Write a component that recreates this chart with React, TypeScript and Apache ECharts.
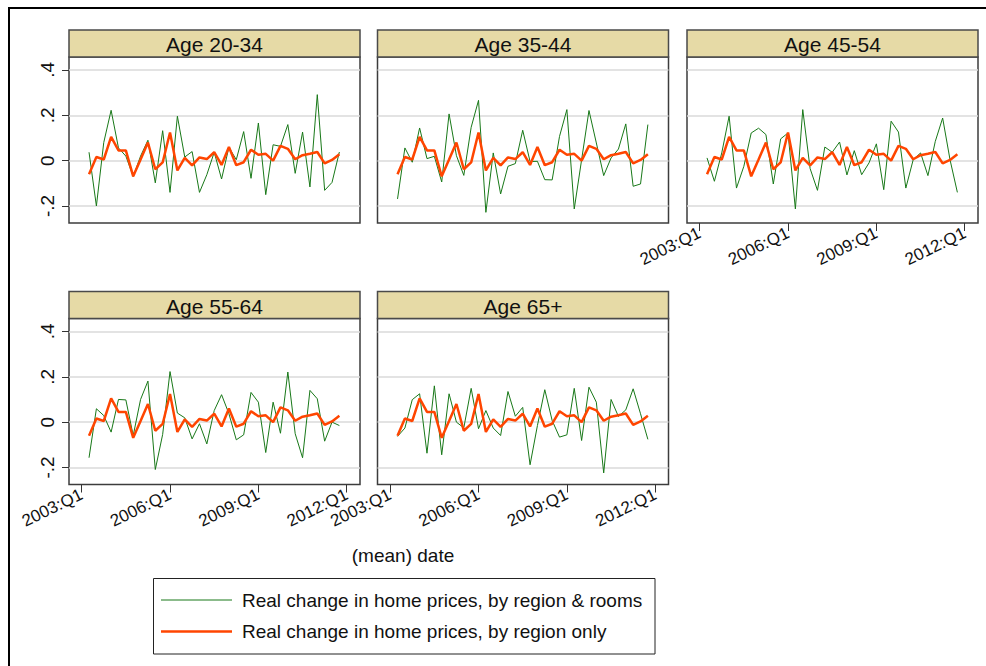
import React, { useEffect, useRef } from "react";
import * as echarts from "echarts";

// ---- Data ----
const quarterIndex = [1, 2, 3, 4, 5, 6, 7, 8, 9, 10, 11, 12, 13, 14, 15, 16, 17, 18, 19, 20, 21, 22, 23, 24, 25, 26, 27, 28, 29, 30, 31, 32, 33, 34, 35];
const xTickValues = [0, 12, 24, 36];
const xTickLabels = ["2003:Q1", "2006:Q1", "2009:Q1", "2012:Q1"];
const yTickValues = [-0.2, 0, 0.2, 0.4];
const yTickLabels = ["-.2", "0", ".2", ".4"];
const panelTitles = ["Age 20-34", "Age 35-44", "Age 45-54", "Age 55-64", "Age 65+"];
const seriesNames = [
  "Real change in home prices, by region & rooms",
  "Real change in home prices, by region only",
];
const axisTitle = "(mean) date";

const regionOnly = [-0.06, 0.016, 0.005, 0.105, 0.045, 0.045, -0.069, 0.005, 0.08, -0.038, -0.008, 0.124, -0.043, 0.012, -0.021, 0.014, 0.007, 0.037, -0.019, 0.06, -0.02, -0.007, 0.048, 0.026, 0.03, 0, 0.065, 0.052, 0.006, 0.024, 0.03, 0.038, -0.012, 0.003, 0.028];

const age2034 = [0.037, -0.2, 0.08, 0.222, 0.056, 0.02, -0.07, 0.02, 0.09, -0.098, 0.132, -0.14, 0.196, 0.016, 0.04, -0.14, -0.062, 0.037, -0.081, 0.059, 0.004, 0.128, -0.078, 0.166, -0.15, 0.07, 0.063, 0.159, -0.056, 0.126, -0.116, 0.291, -0.131, -0.096, 0.038];
const age3544 = [-0.169, 0.056, -0.007, 0.144, 0.009, 0.019, -0.094, 0.206, 0.022, -0.065, 0.147, 0.266, -0.228, 0.034, -0.147, -0.025, -0.013, 0.134, -0.004, -0.003, -0.084, -0.085, 0.107, 0.225, -0.213, 0.004, 0.221, 0.078, -0.066, 0.012, 0.051, 0.162, -0.113, -0.103, 0.159];
const age4554 = [0.012, -0.091, 0.034, 0.196, -0.121, -0.025, 0.122, 0.143, 0.115, -0.103, 0.096, 0.122, -0.213, 0.225, -0.035, -0.131, 0.06, 0.037, 0.082, -0.063, 0.044, -0.062, -0.01, 0.074, -0.128, 0.174, 0.126, -0.121, 0.004, 0.034, -0.066, 0.085, 0.188, 0.004, -0.14];
const age5564 = [-0.157, 0.059, 0.029, -0.044, 0.1, 0.098, -0.059, 0.1, 0.181, -0.209, -0.054, 0.223, 0.04, 0.019, -0.074, -0.007, -0.096, 0.051, 0.121, 0.037, -0.078, -0.056, 0.131, 0.088, -0.134, 0.088, -0.049, 0.221, -0.051, -0.157, 0.14, 0.103, -0.084, 0, -0.015];
const age65p = [-0.063, -0.026, 0.099, 0.125, -0.137, 0.16, -0.144, 0.125, 0, -0.025, 0.149, -0.029, 0.051, -0.026, -0.059, 0.135, 0.026, 0.065, -0.188, -0.015, 0.143, 0.007, -0.066, -0.056, 0.149, -0.081, 0.154, 0.088, -0.224, 0.1, 0.025, 0.054, 0.147, 0.037, -0.076];

const panelGreen = [age2034, age3544, age4554, age5564, age65p];

// ---- Layout / style ----
const FONT = "'Liberation Sans', Arial, Helvetica, sans-serif";
const GREEN = "#187818";
const ORANGE = "#ff4500";
const STRIP_FILL = "#e6daa6";
const PW = 291;
const PH = 166;
const STRIP_H = 27;
const panelLayout = [
  { left: 69, top: 57, showY: true, showX: false },
  { left: 377.5, top: 57, showY: false, showX: false },
  { left: 687, top: 57, showY: false, showX: true },
  { left: 69, top: 318.5, showY: true, showX: true },
  { left: 377.5, top: 318.5, showY: false, showX: true },
];

function labelFor(values: number[], labels: string[], v: number) {
  for (let i = 0; i < values.length; i++) {
    if (Math.abs(values[i] - v) < 1e-9) return labels[i];
  }
  return "";
}

export default function App() {
  const ref = useRef<HTMLDivElement>(null);

  useEffect(() => {
    if (!ref.current) return;
    const chart = echarts.init(ref.current, undefined, { renderer: "svg" });

    const grids: any[] = [];
    const xAxes: any[] = [];
    const yAxes: any[] = [];
    const series: any[] = [];
    const graphics: any[] = [];

    panelLayout.forEach((p, i) => {
      grids.push({
        left: p.left,
        top: p.top,
        width: PW,
        height: PH,
        show: true,
        backgroundColor: "#ffffff",
        borderColor: "#3c3c3c",
        borderWidth: 1.5,
      });
      xAxes.push({
        type: "value",
        gridIndex: i,
        position: "bottom",
        min: -1.72,
        max: 37.8,
        axisLine: { show: false, onZero: false },
        splitLine: { show: false },
        axisTick: {
          show: p.showX,
          length: 8,
          customValues: xTickValues,
          lineStyle: { color: "#333", width: 1 },
        },
        axisLabel: {
          show: p.showX,
          customValues: xTickValues,
          formatter: (v: number) => labelFor(xTickValues, xTickLabels, v),
          rotate: 26,
          margin: 9,
          fontSize: 17,
          fontFamily: FONT,
          color: "#111",
        },
      });
      yAxes.push({
        type: "value",
        gridIndex: i,
        position: "left",
        min: -0.275,
        max: 0.457,
        axisLine: { show: false, onZero: false },
        axisTick: {
          show: p.showY,
          length: 7,
          customValues: yTickValues,
          lineStyle: { color: "#333", width: 1 },
        },
        axisLabel: {
          show: p.showY,
          customValues: yTickValues,
          formatter: (v: number) => labelFor(yTickValues, yTickLabels, v),
          rotate: 90,
          margin: 12,
          fontSize: 19,
          fontFamily: FONT,
          color: "#111",
        },
        splitLine: {
          show: true,
          lineStyle: { color: "#dadada", width: 1.5 },
        },
      });
      series.push({
        type: "line",
        name: seriesNames[0],
        xAxisIndex: i,
        yAxisIndex: i,
        data: quarterIndex.map((q, k) => [q, panelGreen[i][k]]),
        symbol: "none",
        lineStyle: { color: GREEN, width: 1 },
        z: 2,
      });
      series.push({
        type: "line",
        name: seriesNames[1],
        xAxisIndex: i,
        yAxisIndex: i,
        data: quarterIndex.map((q, k) => [q, regionOnly[k]]),
        symbol: "none",
        lineStyle: { color: ORANGE, width: 2.5 },
        z: 3,
      });

      // strip title
      graphics.push({
        type: "rect",
        shape: { x: p.left, y: p.top - STRIP_H, width: PW, height: STRIP_H },
        style: { fill: STRIP_FILL, stroke: "#4a4a4a", lineWidth: 1.5 },
        z: 10,
      });
      graphics.push({
        type: "text",
        x: p.left + PW / 2,
        y: p.top - STRIP_H / 2 + 1,
        style: {
          text: panelTitles[i],
          fontSize: 21,
          fontFamily: FONT,
          fill: "#111",
          align: "center",
          verticalAlign: "middle",
        },
        z: 11,
      });
    });

    // outer frame (top and left edges)
    graphics.push({
      type: "line",
      shape: { x1: 8, y1: 8, x2: 986, y2: 8 },
      style: { stroke: "#000", lineWidth: 2 },
      z: 10,
    });
    graphics.push({
      type: "line",
      shape: { x1: 9, y1: 7, x2: 9, y2: 666 },
      style: { stroke: "#000", lineWidth: 2 },
      z: 10,
    });

    // x axis title
    graphics.push({
      type: "text",
      x: 403,
      y: 555,
      style: {
        text: axisTitle,
        fontSize: 19,
        fontFamily: FONT,
        fill: "#111",
        align: "center",
        verticalAlign: "middle",
      },
      z: 10,
    });

    // legend
    graphics.push({
      type: "rect",
      shape: { x: 153.5, y: 578.5, width: 501.5, height: 75.5 },
      style: { fill: "#fff", stroke: "#222", lineWidth: 1 },
      z: 10,
    });
    const legendRows = [
      { y: 600, color: GREEN, width: 1, text: seriesNames[0] },
      { y: 631.5, color: ORANGE, width: 2.5, text: seriesNames[1] },
    ];
    legendRows.forEach((r) => {
      graphics.push({
        type: "line",
        shape: { x1: 161, y1: r.y, x2: 232, y2: r.y },
        style: { stroke: r.color, lineWidth: r.width },
        z: 11,
      });
      graphics.push({
        type: "text",
        x: 242,
        y: r.y,
        style: {
          text: r.text,
          fontSize: 19,
          fontFamily: FONT,
          fill: "#111",
          align: "left",
          verticalAlign: "middle",
        },
        z: 11,
      });
    });

    chart.setOption({
      animation: false,
      backgroundColor: "#ffffff",
      grid: grids,
      xAxis: xAxes,
      yAxis: yAxes,
      series,
      graphic: { elements: graphics },
    });

    return () => {
      chart.dispose();
    };
  }, []);

  return (
    <div
      ref={ref}
      style={{ position: "fixed", left: 0, top: 0, width: 986, height: 666, background: "#fff" }}
    />
  );
}
